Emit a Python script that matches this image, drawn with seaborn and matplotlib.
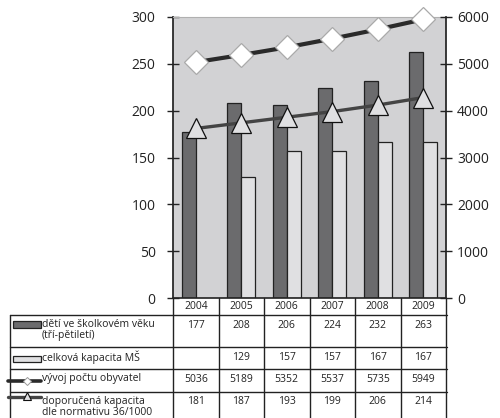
import matplotlib
matplotlib.use("Agg")
import matplotlib.pyplot as plt
import matplotlib.transforms as mtransforms
from matplotlib.patches import Rectangle
from matplotlib.lines import Line2D
import numpy as np
import pandas as pd
import seaborn as sns

YEARS = ["2004", "2005", "2006", "2007", "2008", "2009"]
CHILDREN = [177, 208, 206, 224, 232, 263]
CAPACITY = [np.nan, 129, 157, 157, 167, 167]
POPULATION = [5036, 5189, 5352, 5537, 5735, 5949]
RECOMMENDED = [181, 187, 193, 199, 206, 214]

ROW_LABELS = [
    "dětí ve školkovém věku\n(tří-pětiletí)",
    "celková kapacita MŠ",
    "vývoj počtu obyvatel",
    "doporučená kapacita\ndle normativu 36/1000",
]

DARK = "#6b6b6d"
LIGHT = "#e0e0e2"
BG = "#d2d2d4"

sns.set_theme(style="white")
plt.rcParams["font.family"] = ["Open Sans", "DejaVu Sans"]

W, H = 500, 418
fig = plt.figure(figsize=(5, 4.18), dpi=100)
ax = fig.add_axes([173 / W, 1 - 298 / H, (446 - 173) / W, (298 - 17) / H])
ax.set_facecolor(BG)

bars = pd.DataFrame(
    {
        "year": YEARS * 2,
        "value": CHILDREN + CAPACITY,
        "series": ["children"] * 6 + ["capacity"] * 6,
    }
).dropna()
sns.barplot(
    data=bars, x="year", y="value", hue="series", order=YEARS,
    hue_order=["children", "capacity"], palette=[DARK, LIGHT],
    width=0.62, gap=0, edgecolor="#222222", linewidth=0.9,
    legend=False, ax=ax,
)

xs = np.arange(len(YEARS))
sns.lineplot(
    x=xs, y=RECOMMENDED, ax=ax, color="#444444", linewidth=2.4,
    marker="^", markersize=15, markerfacecolor=LIGHT,
    markeredgecolor="#111111", markeredgewidth=0.9,
)

ax.set_xlim(-0.5, len(YEARS) - 0.5)
ax.set_ylim(0, 300)
ax.set_yticks(range(0, 301, 50))
ax.set_xticks([])
ax.set_xlabel("")
ax.set_ylabel("")

ax2 = ax.twinx()
sns.lineplot(
    x=xs, y=POPULATION, ax=ax2, color="#2a2a2a", linewidth=3,
    marker="D", markersize=12.5, markerfacecolor="white",
    markeredgecolor="#aaaaaa", markeredgewidth=0.9, clip_on=False,
)
ax2.set_ylim(0, 6000)
ax2.set_yticks(range(0, 6001, 1000))
ax2.set_xlim(-0.5, len(YEARS) - 0.5)

for a in (ax, ax2):
    a.tick_params(axis="y", direction="inout", length=9, width=1, colors="#222222",
                  labelsize=10)
    for side in ("top", "bottom", "left", "right"):
        a.spines[side].set_visible(False)
ax.tick_params(axis="y", left=True, pad=8)
ax2.tick_params(axis="y", right=True, pad=3.5)
ax.spines["left"].set_visible(True)
ax.spines["left"].set_color("#222222")
ax2.spines["right"].set_visible(True)
ax2.spines["right"].set_color("#222222")
ax.spines["top"].set_visible(True)
ax.spines["top"].set_color("#b0b0b0")
ax.spines["top"].set_linewidth(0.8)

# data table below the chart
blend = mtransforms.blended_transform_factory(ax.transData, fig.transFigure)
ftr = fig.transFigure


def fy(px):
    return 1 - px / H


row_edges = [298, 315, 347, 369, 392, 426]
lc = "#222222"
fig.add_artist(Line2D([173 / W, 446 / W], [fy(298)] * 2, color=lc, lw=1.2, transform=ftr))
for yp in row_edges[1:-1]:
    fig.add_artist(Line2D([9.5 / W, 446.5 / W], [fy(yp)] * 2, color=lc, lw=1.0, transform=ftr))
for i in range(len(YEARS) + 1):
    fig.add_artist(Line2D([i - 0.5, i - 0.5], [fy(298), fy(426)], color=lc, lw=1.0,
                          transform=blend))
fig.add_artist(Line2D([9.5 / W, 9.5 / W], [fy(315), fy(426)], color=lc, lw=1.0, transform=ftr))

for i, yr in enumerate(YEARS):
    fig.text(i, fy(306.5), yr, transform=blend, ha="center", va="center",
             fontsize=7.5, color="#222222")

table_rows = [CHILDREN, CAPACITY, POPULATION, RECOMMENDED]
for r, vals in enumerate(table_rows):
    top = row_edges[r + 1]
    for i, v in enumerate(vals):
        if not np.isnan(v):
            fig.text(i, fy(top + 4.5), f"{int(v)}", transform=blend, ha="center", va="top",
                     fontsize=7.5, color="#222222")
    fig.text(42 / W, fy(top + 4), ROW_LABELS[r], transform=ftr, ha="left", va="top",
             fontsize=7.5, color="#222222", linespacing=1.05)

# legend keys
fig.add_artist(Rectangle((12.5 / W, fy(328)), 28 / W, 7 / H, transform=ftr,
                         facecolor=DARK, edgecolor="#222222", lw=0.9))
fig.add_artist(Rectangle((12.5 / W, fy(362)), 28 / W, 6.5 / H, transform=ftr,
                         facecolor=LIGHT, edgecolor="#222222", lw=0.9))
fig.add_artist(Line2D([8 / W, 41 / W], [fy(380.5)] * 2, color="#2a2a2a", lw=2.6, transform=ftr))
fig.add_artist(Line2D([27 / W], [fy(380.5)], marker="D", markersize=4.5, markerfacecolor="white",
                      markeredgecolor="#999999", markeredgewidth=0.7, transform=ftr))
fig.add_artist(Line2D([8 / W, 41 / W], [fy(397)] * 2, color="#444444", lw=2.4, transform=ftr))
fig.add_artist(Line2D([27 / W], [fy(396)], marker="^", markersize=5.5, markerfacecolor=LIGHT,
                      markeredgecolor="#111111", markeredgewidth=0.8, transform=ftr))

fig.savefig("out.png", dpi=100, facecolor="white")
